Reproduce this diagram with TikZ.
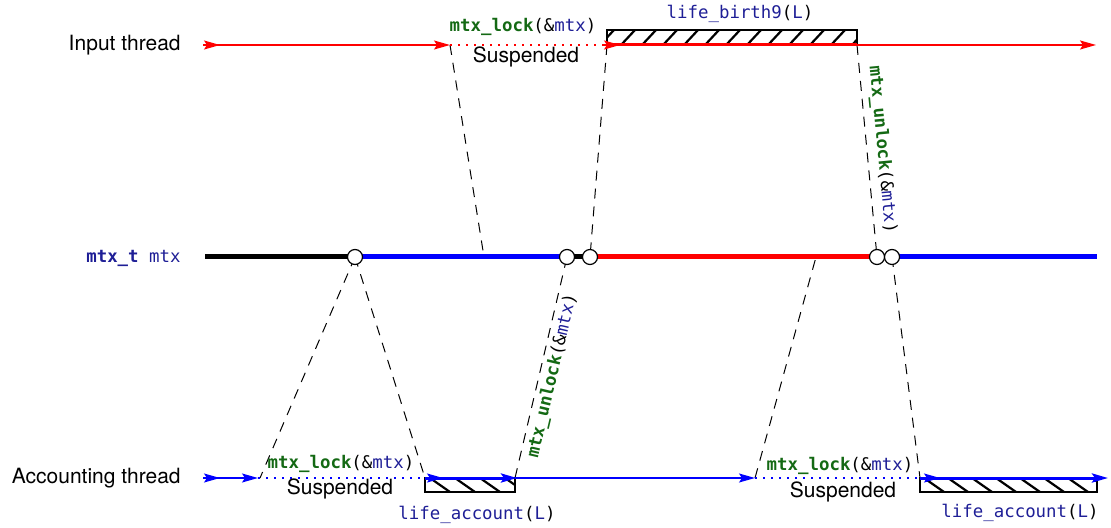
\documentclass[tikz,border=0pt]{standalone}
\usepackage{fontspec}
\setmainfont{TeX Gyre Heros}
\setsansfont{TeX Gyre Heros}
\setmonofont{DejaVu Sans Mono}
\usetikzlibrary{arrows.meta}
\definecolor{kwgreen}{RGB}{20,105,20}
\definecolor{idblue}{RGB}{30,30,150}
\newcommand{\fnname}[1]{\textbf{\color{kwgreen}#1}}
\newcommand{\varname}[1]{{\color{idblue}#1}}
\newcommand{\lockcall}{\fnname{mtx\_lock}(\&\varname{mtx})}
\newcommand{\unlockcall}{\fnname{mtx\_unlock}(\&\varname{mtx})}
\begin{document}
\begin{tikzpicture}[x=0.5pt,y=-0.5pt,
  thr/.style={line width=0.8pt},
  tipped/.style={-{Stealth[length=8pt,width=4.5pt,inset=1.5pt]}},
  susp/.style={line width=1pt, dash pattern=on 1pt off 3pt},
  req/.style={line width=0.5pt, dash pattern=on 5pt off 4pt},
  mtxline/.style={line width=2.5pt},
  lockpt/.style={circle, draw, fill=white, inner sep=0pt, minimum size=7.5pt, line width=0.6pt},
  boxline/.style={line width=0.8pt},
  hatch/.style={line width=1.1pt},
  lbl/.style={font=\fontsize{10.5}{12}\selectfont\sffamily},
  code/.style={font=\fontsize{8.7}{10}\selectfont\ttfamily, inner sep=1pt},
]
\useasboundingbox (0,0) rectangle (1111,528);

% key points
\coordinate (iS) at (205,45);
\coordinate (iL) at (450,45);
\coordinate (iG) at (607,45);
\coordinate (iU) at (857,45);
\coordinate (iE) at (1096,45);
\coordinate (aS) at (205,478);
\coordinate (aL1) at (258,478);
\coordinate (aG1) at (425,478);
\coordinate (aU1) at (517,478);
\coordinate (aL2) at (755,478);
\coordinate (aG2) at (920,478);
\coordinate (aE) at (1108,478);
\coordinate (mS) at (205,257);
\coordinate (mE) at (1097,257);
\coordinate (mR1) at (484,257);
\coordinate (mR2) at (816,257);

% dashed connectors
\draw[req] (iL) -- (mR1);
\draw[req] (iG) -- (590,257);
\draw[req] (iU) -- node[code, sloped, above, pos=0.5, yshift=2pt] {\unlockcall} (877,257);
\draw[req] (355,257) -- (260,478);
\draw[req] (355,257) -- (aG1);
\draw[req] (515,478) -- node[code, sloped, below, pos=0.475, yshift=-1pt] {\unlockcall} (567,257);
\draw[req] (aL2) -- (mR2);
\draw[req] (892,257) -- (aG2);

% mutex line
\draw[mtxline, black] (mS) -- (355,257);
\draw[mtxline, blue] (355,257) -- (567,257);
\draw[mtxline, black] (567,257) -- (590,257);
\draw[mtxline, red] (590,257) -- (877,257);
\draw[mtxline, black] (877,257) -- (892,257);
\draw[mtxline, blue] (892,257) -- (mE);
\node[lockpt] (c1) at (355,257) {};
\node[lockpt] (c2) at (567,257) {};
\node[lockpt] (c3) at (590,257) {};
\node[lockpt] (c4) at (877,257) {};
\node[lockpt] (c5) at (892,257) {};

% input thread
\draw[thr, red, tipped] (203,45) -- (220,45);
\draw[thr, red, tipped] (iS) -- (iL);
\draw[susp, red] (iL) -- (iG);
\begin{scope}
  \clip (607,30) rectangle (857,45);
  \foreach \x in {600,621,...,880} \draw[hatch] (\x,45) -- (\x+14,30);
\end{scope}
\draw[boxline] (607,30) rectangle (857,45);
\draw[line width=1.5pt, red] (iG) -- (iU);
\draw[thr, red, tipped] (603,45) -- (620,45);
\draw[thr, red, tipped] (iU) -- (iE);

% accounting thread
\draw[thr, blue, tipped] (203,478) -- (220,478);
\draw[thr, blue, tipped] (aS) -- (aL1);
\draw[susp, blue] (aL1) -- (aG1);
\begin{scope}
  \clip (425,478) rectangle (515,492);
  \foreach \x in {405,430,...,530} \draw[hatch] (\x,478) -- (\x+20,492);
\end{scope}
\draw[boxline] (425,478) rectangle (515,492);
\draw[line width=1.5pt, blue, tipped] (aG1) -- (aU1);
\draw[thr, blue, tipped] (425,478) -- (443,478);
\draw[thr, blue, tipped] (515,478) -- (aL2);
\draw[susp, blue] (aL2) -- (aG2);
\begin{scope}
  \clip (920,478) rectangle (1097,492);
  \foreach \x in {900,924,...,1110} \draw[hatch] (\x,478) -- (\x+20,492);
\end{scope}
\draw[boxline] (920,478) rectangle (1097,492);
\draw[line width=1.5pt, blue, tipped] (aG2) -- (aE);
\draw[thr, blue, tipped] (920,478) -- (940,478);

% labels
\node[lbl, anchor=mid east, inner sep=0pt] (tIn) at (181,45) {Input thread};
\node[lbl, anchor=mid east, inner sep=0pt] (tAcc) at (181,478) {Accounting thread};
\node[code, anchor=mid east, inner sep=0pt] (tMtx) at (181,257) {\textbf{\varname{mtx\_t}} \varname{mtx}};

\node[code] (l1) at (523,27) {\lockcall};
\node[lbl] (s1) at (526,57) {Suspended};
\node[code] (b1) at (740,14) {\varname{life\_birth9}(\varname{L})};

\node[code] (l2) at (341,464) {\lockcall};
\node[lbl] (s2) at (340,489) {Suspended};
\node[code] (b2) at (477,515) {\varname{life\_account}(\varname{L})};

\node[code] (l3) at (840,466) {\lockcall};
\node[lbl] (s3) at (843,492) {Suspended};
\node[code] (b3) at (1020,513) {\varname{life\_account}(\varname{L})};
\end{tikzpicture}
\end{document}
